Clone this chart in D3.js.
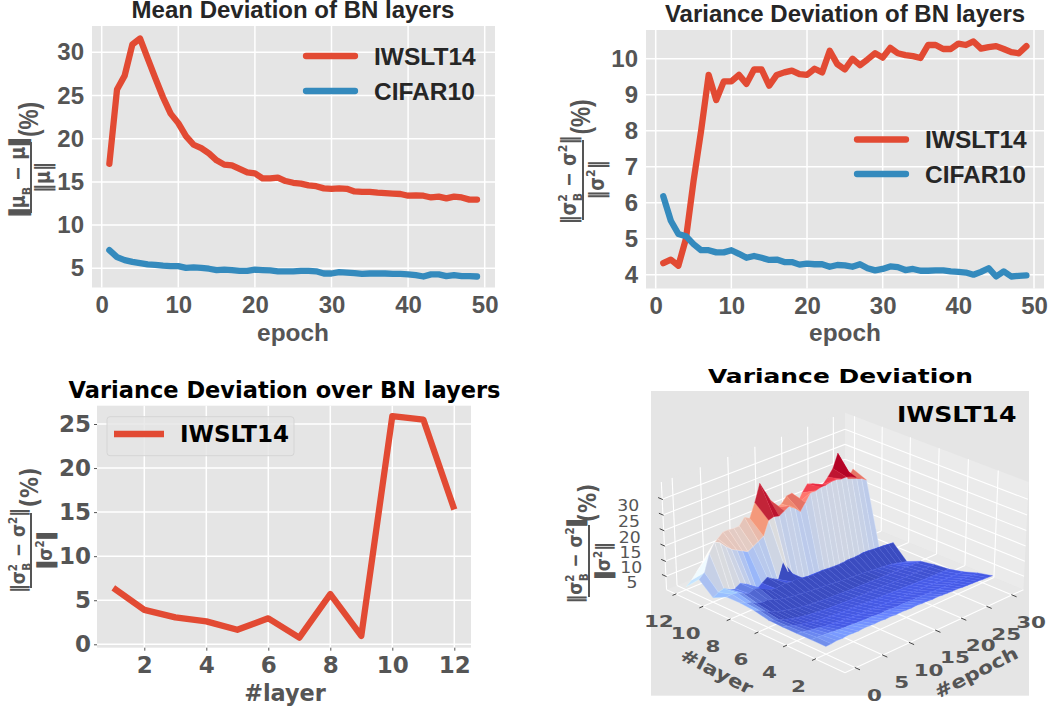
<!DOCTYPE html>
<html>
<head>
<meta charset="utf-8">
<script src="https://cdnjs.cloudflare.com/ajax/libs/d3/7.8.5/d3.min.js"></script>
<style>
  html, body { margin: 0; padding: 0; background: #fff; }
  svg { display: block; }
  .grid line { stroke: #fff; stroke-width: 1.5; }
</style>
</head>
<body>
<svg id="chart" width="1050" height="709"></svg>
<script>
// ---- data ----
const epochs = d3.range(1, 50);
const meanIwslt = [17.1,25.7,27.3,30.9,31.6,29.3,27,24.8,22.9,21.8,20.3,19.3,18.9,18.3,17.5,17,16.9,16.5,16.1,16,15.4,15.4,15.5,15.1,14.9,14.8,14.6,14.5,14.25,14.2,14.25,14.2,13.9,13.85,13.85,13.75,13.7,13.65,13.6,13.4,13.45,13.4,13.2,13.3,13.1,13.3,13.2,12.95,12.95];
const meanCifar = [7.1,6.3,5.95,5.75,5.6,5.45,5.4,5.3,5.25,5.25,5.05,5.1,5.05,4.95,4.8,4.85,4.8,4.7,4.7,4.85,4.8,4.75,4.65,4.65,4.65,4.7,4.7,4.65,4.4,4.4,4.55,4.5,4.45,4.35,4.4,4.4,4.4,4.35,4.35,4.3,4.2,4.05,4.3,4.3,4.1,4.2,4.1,4.1,4.05];
const varIwslt = [4.32,4.42,4.25,5.0,6.6,8.0,9.55,8.85,9.37,9.37,9.55,9.3,9.7,9.7,9.25,9.55,9.62,9.67,9.57,9.55,9.72,9.62,10.22,9.85,9.7,10,9.82,9.98,10.15,10.03,10.3,10.15,10.1,10.07,10.02,10.38,10.38,10.27,10.27,10.42,10.38,10.48,10.28,10.32,10.35,10.27,10.18,10.15,10.35];
const varCifar = [6.18,5.5,5.13,5.07,4.85,4.68,4.68,4.62,4.62,4.68,4.58,4.47,4.52,4.47,4.41,4.42,4.35,4.35,4.28,4.31,4.29,4.29,4.22,4.27,4.26,4.22,4.29,4.18,4.12,4.16,4.23,4.21,4.13,4.16,4.11,4.11,4.12,4.12,4.09,4.08,4.06,4.0,4.08,4.18,3.95,4.09,3.95,3.97,3.98];
const layers = d3.range(1, 13);
const layerVar = [6.4,3.9,3.05,2.6,1.65,2.95,0.75,5.7,0.95,25.9,25.5,15.3];

// surface: one row per layer, one value per epoch step
const surfEpochs = d3.range(0, 33);
const surfLayers = d3.range(2, 13);
const row2 = [3,3.1,3.3,3.2,3.4,3.3,3.2,3.4,3.3,3.2,3.3,3.1,3.2,3,3.1,3,2.9,3,2.8,2.8,2.6,2.7,2.5,2.4,2.3,2.3,2.1,2,1.9,1.8,1.6,1.5,1.4];
const row3 = [3,3,2.8,2.7,2.4,2.3,2.1,2.1,1.9,1.8,1.7,1.7,1.5,1.4,1.5,1.3,1.2,1.3,1.2,1.1,1.1,1,1,.9,.9,.8,.8,.7,.7,.6,.5,.4,.3];
const row4 = [2.9,2.6,2.2,1.9,1.6,1.2,1,.8,.6,.5,.3,.2,.1,0,-.1,-.2,-.2,-.3,-.4,-.4,-.5,-.5,-.6,-.7,-.7,-.8,-.9,-.9,-1,-1.1,-1.2,-1.2,-1.3];
const row5 = [2.9,2.3,1.8,1.2,.8,.4,.1,-.2,-.4,-.6,-.8,-.9,-1,-1.1,-1.2,-1.3,-1.4,-1.5,-1.6,-1.6,-1.7,-1.8,-1.9,-1.9,-2,-2.1,-2.1,-2.2,-2.2,-2.3,-2.3,-2.4,-2.4];
const row6 = [3,2.2,1.5,.8,.3,-.2,-.6,-.9,-1.2,-1.4,-1.6,-1.8,-1.9,-2,-2.1,-2.2,-2.2,-2.3,-2.4,-2.4,-2.5,-2.5,-2.6,-2.6,-2.7,-2.7,-2.7,-2.8,-2.8,-2.8,-2.9,-2.9,-2.9];
const row7 = [4,3.2,2.2,1.2,.6,0,-.4,-.9,-1.3,-1.6,-1.9,-2,-2.2,-2.4,-2.5,-2.6,-2.7,-2.8,-2.9,-3,-3,-3.1,-3.1,-3.2,-3.3,-3.3,-3.4,-3.4,-3.5,-3.5,-3.6,-3.6,-3.7];
const row8 = [4.4,3.6,3,2,1.5,1.6,.9,.2,-.3,-.6,-.9,-1.1,-1.3,-1.5,-1.7,-1.9,-2,-2.2,-2.4,-2.6,-2.8,-2.9,-3.1,-3.2,-3.4,-3.6,-3.8,-4,-4.2,-4.5,-4.9,-5.4,-5.8];
const row9 = [4.3,4.4,4.1,3.2,2.4,3,2.6,1.6,.6,.2,.5,.6,.2,.4,0,-.3,-.5,-.4,-.4,-.6,-.7,-.8,-.7,-.5,-.6,-.5,-.3,-.4,-.6,-.8,-.9,-1.1,-1.3];
const row10 = [2,3,3.5,2.5,2,3,2,.5,-1.3,0,1.2,0,-1,4.2,0,-3.8,-4,-4.2,-4.5,-4.4,-4.6,-4.8,-4.7,-4.9,-5,-5,-5.1,-5,-5.2,-5.1,-5.3,-5.3,-5.4];
const row11 = [6,7.5,13,16,15,13,11.5,10.5,9.5,8.5,9.5,10.5,11.5,16,16.5,16,17,18,16.5,14.7,17,19.5,19.5,20,20,20.5,20.5,20,20,19.5,18.5,17.5,16.3];
const row12 = [1.5,3,5,7,9.5,11.5,13,14.5,14.5,14.3,14.3,16.5,15.5,20,25.5,22,18.5,15.5,16,18,18.2,14,17,19.2,18.6,16.5,17,18.8,21,25.4,20,15.6,18.2];
const surface = [row2,row3,row4,row5,row6,row7,row8,row9,row10,row11,row12];

const epochTicks = [0,10,20,30,40,50];
const meanTicks = [5,10,15,20,25,30];
const varTicks = [4,5,6,7,8,9,10];
const layerTicks = [2,4,6,8,10,12];
const layerValTicks = [0,5,10,15,20,25];
const surfEpochTicks = [0,5,10,15,20,25,30];
const surfLayerTicks = [2,4,6,8,10,12];
const surfZTicks = [5,10,15,20,25,30];

const RED = "#E24A33", BLUE = "#348ABD", BG = "#E5E5E5", TICK = "#555555";
const SANS = "'Liberation Sans', Arial, sans-serif", DEJA = "'DejaVu Sans', sans-serif";

const svg = d3.select("#chart");

// one flat line panel
function linePanel(cfg) {
    const x = d3.scaleLinear().domain(cfg.xCal[0]).range(cfg.xCal[1]);
    const y = d3.scaleLinear().domain(cfg.yCal[0]).range(cfg.yCal[1]);
    const r = cfg.rect;
    const g = svg.append("g").attr("font-family", cfg.font).attr("font-weight", "bold");

    g.append("rect").attr("x", r[0]).attr("y", r[1]).attr("width", r[2]-r[0]).attr("height", r[3]-r[1]).attr("fill", BG);

    const gx = g.append("g").attr("class", "grid");
    gx.selectAll("line.v").data(cfg.xTicks).join("line").attr("class","v")
        .attr("x1", d => x(d)).attr("x2", d => x(d)).attr("y1", r[1]).attr("y2", r[3]);
    gx.selectAll("line.h").data(cfg.yTicks).join("line").attr("class","h")
        .attr("y1", d => y(d)).attr("y2", d => y(d)).attr("x1", r[0]).attr("x2", r[2]);

    // axes, used for labels only
    const ax = g.append("g").attr("transform", `translate(0,${r[3]})`)
        .call(d3.axisBottom(x).tickValues(cfg.xTicks).tickFormat(d3.format("d")).tickSize(cfg.tick).tickPadding(cfg.xPad));
    const ay = g.append("g").attr("transform", `translate(${r[0]},0)`)
        .call(d3.axisLeft(y).tickValues(cfg.yTicks).tickFormat(d3.format("d")).tickSize(cfg.tick).tickPadding(cfg.yPad));
    [ax, ay].forEach(a => {
        a.select(".domain").remove();
        a.selectAll("line").attr("stroke", TICK);
        a.selectAll("text").attr("fill", TICK).attr("font-size", cfg.tickSize).attr("font-family", cfg.font).attr("font-weight", "bold");
    });

    const line = d3.line().x((d, i) => x(cfg.xs[i])).y(d => y(d));
    cfg.series.forEach(s => {
        g.append("path").attr("d", line(s.values)).attr("fill", "none")
            .attr("stroke", s.color).attr("stroke-width", cfg.lw)
            .attr("stroke-linecap", cfg.cap).attr("stroke-linejoin", "round");
    });

    g.append("text").attr("x", cfg.titlePos[0]).attr("y", cfg.titlePos[1]).attr("text-anchor", "middle")
        .attr("font-size", cfg.titleSize).attr("fill", cfg.titleFill).text(cfg.title);
    g.append("text").attr("x", cfg.xLabelPos[0]).attr("y", cfg.xLabelPos[1]).attr("text-anchor", "middle")
        .attr("font-size", cfg.labelSize).attr("fill", TICK).text(cfg.xLabel);

    // legend
    if (cfg.legendBox) {
        const b = cfg.legendBox;
        g.append("rect").attr("x", b[0]).attr("y", b[1]).attr("width", b[2]-b[0]).attr("height", b[3]-b[1])
            .attr("rx", 3).attr("fill", "#E5E5E5").attr("fill-opacity", .8).attr("stroke", "#d5d5d5");
    }
    cfg.legend.forEach(l => {
        g.append("line").attr("x1", l.x1).attr("x2", l.x2).attr("y1", l.y).attr("y2", l.y)
            .attr("stroke", l.color).attr("stroke-width", cfg.lw).attr("stroke-linecap", cfg.cap);
        g.append("text").attr("x", l.tx).attr("y", l.y + cfg.legendDy).attr("font-size", cfg.legendSize)
            .attr("fill", cfg.legendFill).text(l.text);
    });
}

// the rotated "fraction (%)" y label, glyphs squeezed along the text like the original
function fraction(f) {
    const g = svg.append("g").attr("transform", `translate(${f.x},${f.y}) rotate(-90)`)
        .attr("font-family", DEJA).attr("font-weight", "bold").attr("fill", TICK);
    g.append("line").attr("x1", -f.len/2).attr("x2", f.len/2).attr("stroke", TICK).attr("stroke-width", 2);

    const sym = f.sym, fs = f.size, small = fs * .62, sq = f.squeeze;
    const bar = (t, thick) => t.append("tspan").text("‖")
        .attr("stroke", thick ? TICK : "none").attr("stroke-width", thick ? 1.5 : 0);
    const num = g.append("text").attr("transform", `translate(0,${f.numY}) scale(${sq},1)`)
        .attr("text-anchor", "middle").attr("font-size", fs);
    bar(num, f.thick[0]);
    num.append("tspan").text(sym);
    if (f.squared) {
        num.append("tspan").attr("font-size", small).attr("dy", -fs*.42).text("2");
        num.append("tspan").attr("font-size", small).attr("dy", fs*.72).attr("dx", -small*.66).text("B");
        num.append("tspan").attr("dy", -fs*.30).text(" − " + sym);
        num.append("tspan").attr("font-size", small).attr("dy", -fs*.42).text("2");
        bar(num, f.thick[1]).attr("dy", fs*.42);
    } else {
        num.append("tspan").attr("font-size", small).attr("dy", fs*.28).text("B");
        num.append("tspan").attr("dy", -fs*.28).text(" − " + sym);
        bar(num, f.thick[1]);
    }
    const den = g.append("text").attr("transform", `translate(0,${f.denY}) scale(${sq},1)`)
        .attr("text-anchor", "middle").attr("font-size", fs);
    bar(den, f.thick[2]);
    den.append("tspan").text(sym);
    if (f.squared) {
        den.append("tspan").attr("font-size", small).attr("dy", -fs*.42).text("2");
        bar(den, f.thick[3]).attr("dy", fs*.42);
    } else {
        bar(den, f.thick[3]);
    }
    g.append("text").attr("transform", `translate(${f.pctX},${f.pctY}) scale(${sq},1)`).attr("text-anchor", "middle")
        .attr("font-family", f.pctFont).attr("font-size", f.pctSize).text("(%)");
}

linePanel({
    rect: [92, 26, 495, 287.5], font: SANS,
    xCal: [[0, 50], [101.7, 484.7]], yCal: [[5, 30], [268.3, 52.3]],
    xTicks: epochTicks, yTicks: meanTicks, xs: epochs, tick: 0, xPad: 8, yPad: 8,
    series: [{values: meanIwslt, color: RED}, {values: meanCifar, color: BLUE}],
    lw: 6.3, cap: "round", tickSize: 24,
    title: "Mean Deviation of BN layers", titlePos: [293, 18], titleSize: 24, titleFill: "#262626",
    xLabel: "epoch", xLabelPos: [293, 341], labelSize: 24.4,
    legend: [{x1: 306, x2: 355, y: 56, color: RED, tx: 374, text: "IWSLT14"},
             {x1: 306, x2: 355, y: 91, color: BLUE, tx: 374, text: "CIFAR10"}],
    legendDy: 8.5, legendSize: 24.5, legendFill: "#262626"
});
fraction({x: 31, y: 177.5, len: 71, sym: "μ", squared: false, size: 21, squeeze: .84, numY: -6, denY: 19,
    thick: [true, true, false, false], pctX: 58, pctY: 7, pctFont: SANS, pctSize: 27});

linePanel({
    rect: [646, 30, 1044, 288.5], font: SANS,
    xCal: [[0, 50], [655.7, 1034]], yCal: [[4, 10], [274.7, 58.7]],
    xTicks: epochTicks, yTicks: varTicks, xs: epochs, tick: 0, xPad: 8, yPad: 8,
    series: [{values: varIwslt, color: RED}, {values: varCifar, color: BLUE}],
    lw: 6.3, cap: "round", tickSize: 24,
    title: "Variance Deviation of BN layers", titlePos: [845, 22], titleSize: 24, titleFill: "#262626",
    xLabel: "epoch", xLabelPos: [845, 341], labelSize: 24.4,
    legend: [{x1: 857, x2: 906, y: 139.5, color: RED, tx: 925, text: "IWSLT14"},
             {x1: 857, x2: 906, y: 174, color: BLUE, tx: 925, text: "CIFAR10"}],
    legendDy: 8.5, legendSize: 24.5, legendFill: "#262626"
});
fraction({x: 583, y: 180, len: 80, sym: "σ", squared: true, size: 21, squeeze: .84, numY: -7, denY: 21,
    thick: [false, false, false, false], pctX: 63, pctY: 7, pctFont: SANS, pctSize: 27});

linePanel({
    rect: [97, 405.7, 471, 647.7], font: DEJA,
    xCal: [[2, 12], [144.3, 454.3]], yCal: [[0, 25], [644.3, 424]],
    xTicks: layerTicks, yTicks: layerValTicks, xs: layers, tick: 3, xPad: 6, yPad: 3,
    series: [{values: layerVar, color: RED}],
    lw: 6.3, cap: "butt", tickSize: 23,
    title: "Variance Deviation over BN layers", titlePos: [284.5, 398], titleSize: 22.5, titleFill: "#000",
    xLabel: "#layer", xLabelPos: [285, 701], labelSize: 22.4,
    legendBox: [107, 416.7, 294, 455.7],
    legend: [{x1: 114, x2: 164, y: 434, color: RED, tx: 180, text: "IWSLT14"}],
    legendDy: 8, legendSize: 23, legendFill: "#000"
});
fraction({x: 31, y: 550.5, len: 75, sym: "σ", squared: true, size: 20, squeeze: .84, numY: -6, denY: 21,
    thick: [false, false, true, true], pctX: 63, pctY: 7, pctFont: DEJA, pctSize: 25});

// ---- 3d panel: own small perspective camera ----
const box = {x0: 651, y0: 391, x1: 1029, y1: 695.7};
svg.append("rect").attr("x", box.x0).attr("y", box.y0).attr("width", box.x1-box.x0).attr("height", box.y1-box.y0).attr("fill", BG);

const epochLim = [-1.9, 32.3], layerLim = [0, 12.7], zLim = [0.55, 35.5];
const hz = 0.58, elev = 30 * Math.PI / 180, dist = 10, c45 = Math.SQRT1_2;
const ex = d3.scaleLinear().domain(epochLim).range([-.5, .5]);
const ly = d3.scaleLinear().domain(layerLim).range([-.5, .5]);
const zz = d3.scaleLinear().domain(zLim).range([-hz/2, hz/2]);
const sx = 2560, sy = 2145, cx = 845, cy = 536.6;

function view(E, L, Z) {
    const a = ex(E), b = ly(L), c = zz(Z);
    const xv = (a - b) * c45;
    const h = -(a + b) * c45;
    const yv = c * Math.cos(elev) - h * Math.sin(elev);
    const d = h * Math.cos(elev) + c * Math.sin(elev);
    const s = 1 / (dist - d);
    return {x: cx + sx * xv * s, y: cy - sy * yv * s, depth: d};
}
const pt = (E, L, Z) => { const p = view(E, L, Z); return [p.x, p.y]; };
const poly = arr => d3.line()(arr) + "Z";

const [E0, E1] = epochLim, [L0, L1] = layerLim, [Z0, Z1] = zLim;
const g3 = svg.append("g");

// panes
g3.append("path").attr("d", poly([pt(E0,L1,Z0), pt(E1,L1,Z0), pt(E1,L1,Z1), pt(E0,L1,Z1)])).attr("fill", "#E5E5E5");
g3.append("path").attr("d", poly([pt(E1,L0,Z0), pt(E1,L1,Z0), pt(E1,L1,Z1), pt(E1,L0,Z1)])).attr("fill", "#EBEBEB");
g3.append("path").attr("d", poly([pt(E0,L0,Z0), pt(E1,L0,Z0), pt(E1,L1,Z0), pt(E0,L1,Z0)])).attr("fill", "#E8E8E8");

// grid on the panes
const gridSegs = [];
surfEpochTicks.forEach(e => {
    gridSegs.push([pt(e,L0,Z0), pt(e,L1,Z0)], [pt(e,L1,Z0), pt(e,L1,Z1)]);
});
surfLayerTicks.forEach(l => {
    gridSegs.push([pt(E0,l,Z0), pt(E1,l,Z0)], [pt(E1,l,Z0), pt(E1,l,Z1)]);
});
surfZTicks.forEach(z => {
    gridSegs.push([pt(E0,L1,z), pt(E1,L1,z)], [pt(E1,L1,z), pt(E1,L0,z)]);
});
gridSegs.push([pt(E0,L1,Z0), pt(E0,L1,Z1)]);
g3.selectAll("line.g").data(gridSegs).join("line").attr("class", "g")
    .attr("x1", d => d[0][0]).attr("y1", d => d[0][1]).attr("x2", d => d[1][0]).attr("y2", d => d[1][1])
    .attr("stroke", "#fff").attr("stroke-width", 1.1);

// edges and ticks
const frame = [[pt(E0,L0,Z0), pt(E1,L0,Z0)], [pt(E0,L0,Z0), pt(E0,L1,Z0)]];
g3.selectAll("line.f").data(frame).join("line").attr("class", "f")
    .attr("x1", d => d[0][0]).attr("y1", d => d[0][1]).attr("x2", d => d[1][0]).attr("y2", d => d[1][1])
    .attr("stroke", "#fff").attr("stroke-width", 1.1);

const tickLine = (a, b) => g3.append("line").attr("x1", a[0]).attr("y1", a[1]).attr("x2", b[0]).attr("y2", b[1])
    .attr("stroke", "#444").attr("stroke-width", 1);
const label3d = (x, y, s, size, weight, rot, stretch) => g3.append("text")
    .attr("transform", `translate(${x},${y}) rotate(${rot || 0}) scale(${stretch || 1.3},1)`)
    .attr("text-anchor", "middle").attr("font-family", DEJA).attr("font-weight", weight)
    .attr("font-size", size).attr("fill", TICK).text(s);

surfEpochTicks.forEach(e => {
    const p = pt(e, L0, Z0), q = pt(e, L0 - .3, Z0), r = pt(e, L0 + .05, Z0);
    tickLine(r, q);
    label3d(p[0] + 19, p[1] + 33, e, 16.5, "bold");
});
surfLayerTicks.forEach(l => {
    const p = pt(E0, l, Z0), q = pt(E0 - .6, l, Z0), r = pt(E0 + .1, l, Z0);
    tickLine(r, q);
    label3d(p[0] - 17, p[1] + 33, l, 16.5, "bold");
});
surfZTicks.forEach(z => {
    const p = pt(E0, L1, z), q = pt(E0, L1 + .3, z), r = pt(E0, L1 - .05, z);
    tickLine(r, q);
    label3d(p[0] - 34, p[1] + 12, z, 15, "normal", 0, 1.15);
});

// coolwarm colours, the flat part stays at the dark end and the walls go pale
const coolwarm = d3.scaleLinear().domain([0, .25, .5, .75, 1])
    .range(["#3b4cc0", "#8db0fe", "#dddddd", "#f4987a", "#b40426"]).interpolate(d3.interpolateRgb);
const zNorm = d3.scaleLinear().domain([1.5, 5, 13, 20.5]).range([0, .38, .6, 1]).clamp(true);

const facets = [];
for (let i = 0; i < surfLayers.length - 1; i++) {
    for (let j = 0; j < surfEpochs.length - 1; j++) {
        const c = [[i,j],[i+1,j],[i+1,j+1],[i,j+1]];
        const pts = c.map(([a,b]) => view(surfEpochs[b], surfLayers[a], surface[a][b]));
        const avg = d3.mean(c, ([a,b]) => surface[a][b]);
        // faces tilted to the front catch more light
        const tilt = (surface[i][j] + surface[i][j+1] - surface[i+1][j] - surface[i+1][j+1]) / 2;
        const lit = Math.max(0, Math.min(tilt * .4, .5));
        facets.push({pts: pts.map(p => [p.x, p.y]), depth: d3.mean(pts, p => p.depth),
            color: d3.color(coolwarm(zNorm(avg))).brighter(lit)});
    }
}
facets.sort((a, b) => a.depth - b.depth);
g3.append("g").selectAll("path").data(facets).join("path")
    .attr("d", d => poly(d.pts)).attr("fill", d => d.color)
    .attr("stroke", d => d3.color(d.color).brighter(.35)).attr("stroke-width", .35);

label3d(714, 677, "#layer", 18, "bold", 27, 1.2);
label3d(979, 678, "#epoch", 18, "bold", -27, 1.2);

svg.append("text").attr("transform", "translate(840.5,383) scale(1.26,1)").attr("text-anchor", "middle")
    .attr("font-family", DEJA).attr("font-weight", "bold").attr("font-size", 19.8).attr("fill", "#000").text("Variance Deviation");
svg.append("text").attr("transform", "translate(956.7,422) scale(1.2,1)").attr("text-anchor", "middle")
    .attr("font-family", DEJA).attr("font-weight", "bold").attr("font-size", 21).attr("fill", "#000").text("IWSLT14");

fraction({x: 589, y: 561, len: 72, sym: "σ", squared: true, size: 20, squeeze: .84, numY: -7, denY: 21,
    thick: [false, true, true, false], pctX: 58, pctY: 7, pctFont: DEJA, pctSize: 24});
</script>
</body>
</html>
